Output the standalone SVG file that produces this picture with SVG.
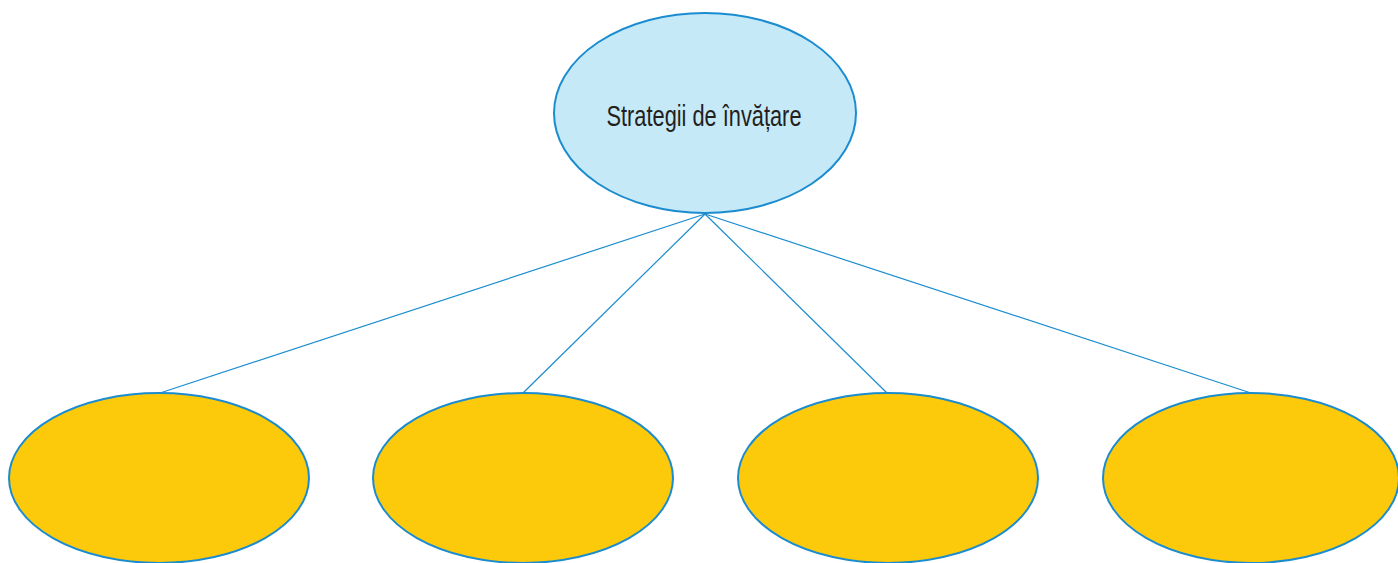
<svg xmlns="http://www.w3.org/2000/svg" width="1398" height="563" viewBox="0 0 1398 563">
<style>
.edge{stroke:#1a8ccf;stroke-width:1.2;fill:none}
.node{stroke:#1a8ccf;stroke-width:2}
.root{fill:#c6e9f8}
.leaf{fill:#fdc90b}
.label{font-family:"Liberation Sans Narrow","Liberation Sans",sans-serif;font-size:29px;fill:#231f20}
</style>
<rect width="1398" height="563" fill="#ffffff"/>
<g id="connectors">
<line class="edge" x1="705" y1="214" x2="160" y2="393"/>
<line class="edge" x1="705" y1="214" x2="523" y2="393"/>
<line class="edge" x1="705" y1="214" x2="887" y2="393"/>
<line class="edge" x1="705" y1="214" x2="1251" y2="393"/>
</g>
<g id="root">
<ellipse class="node root" cx="705" cy="113" rx="151" ry="100"/>
<text class="label" x="704" y="126" text-anchor="middle" textLength="195" lengthAdjust="spacingAndGlyphs">Strategii de învățare</text>
</g>
<g id="leaf1"><ellipse class="node leaf" cx="159" cy="478" rx="150" ry="85"/></g>
<g id="leaf2"><ellipse class="node leaf" cx="523" cy="478" rx="150" ry="85"/></g>
<g id="leaf3"><ellipse class="node leaf" cx="888" cy="478" rx="150" ry="85"/></g>
<g id="leaf4"><ellipse class="node leaf" cx="1251" cy="478" rx="148" ry="85"/></g>
</svg>
